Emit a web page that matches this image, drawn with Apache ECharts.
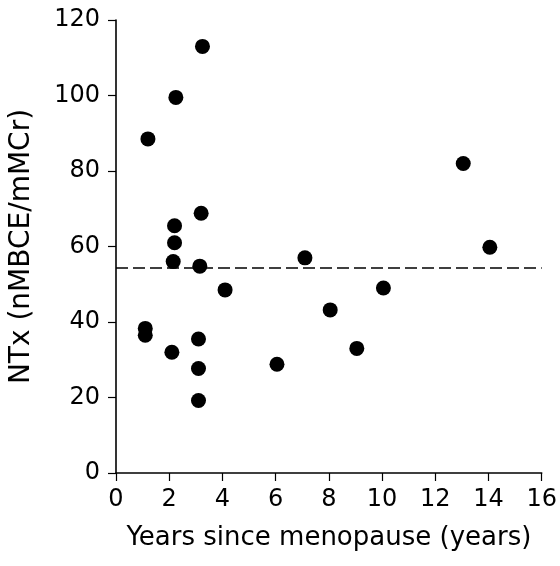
<!DOCTYPE html>
<html>
<head>
<meta charset="utf-8">
<script src="https://cdn.jsdelivr.net/npm/echarts@6/dist/echarts.min.js"></script>
<style>
  html, body { margin: 0; padding: 0; background: #fff; }
  #chart { width: 560px; height: 566px; }
</style>
</head>
<body>
<div id="chart"></div>
<script>
  // years since menopause / NTx pairs
  let years = [3.25, 2.25, 1.2, 3.2, 2.2, 2.2, 2.15, 3.15, 4.1, 1.1, 1.1, 2.1, 3.1, 3.1, 3.1, 6.05, 7.1, 8.05, 9.05, 10.05, 13.05, 14.05]
  let ntx = [113, 99.5, 88.5, 68.8, 65.5, 61, 56, 54.8, 48.5, 38.3, 36.5, 32, 35.5, 27.7, 19.2, 28.8, 57, 43.2, 33, 49, 82, 59.8]
  let meanNtx = 54.5
  let xTicks = [0, 16, 2]
  let yTicks = [0, 120, 20]

  let points = years.map((x, i) => [x, ntx[i]])

  let myChart = echarts.init(document.getElementById('chart'))
  let axisCommon = {
    axisLine: { show: true, onZero: false, lineStyle: { color: '#000', width: 1.6 } },
    axisTick: { show: true, inside: false, length: 8, lineStyle: { color: '#000', width: 1.2 } },
    splitLine: { show: false },
    axisLabel: { color: '#000', fontFamily: 'DejaVu Sans', fontSize: 24 },
    nameTextStyle: { color: '#000', fontFamily: 'DejaVu Sans', fontSize: 26 }
  }
  let option = {
    animation: false,
    backgroundColor: '#fff',
    grid: { left: 116, right: 13, top: 20, bottom: 93, containLabel: false },
    xAxis: Object.assign({}, axisCommon, {
      type: 'value',
      min: xTicks[0], max: xTicks[1], interval: xTicks[2],
      name: 'Years since menopause (years)',
      nameLocation: 'middle',
      nameGap: 52,
      axisLabel: Object.assign({}, axisCommon.axisLabel, { margin: 15 })
    }),
    yAxis: Object.assign({}, axisCommon, {
      type: 'value',
      min: yTicks[0], max: yTicks[1], interval: yTicks[2],
      name: 'NTx (nMBCE/mMCr)',
      nameLocation: 'middle',
      nameRotate: 90,
      nameGap: 80,
      nameTextStyle: Object.assign({}, axisCommon.nameTextStyle, { fontSize: 28 }),
      axisLabel: Object.assign({}, axisCommon.axisLabel, { margin: 16 })
    }),
    series: [
      {
        type: 'scatter',
        data: points,
        symbol: 'circle',
        symbolSize: 15,
        itemStyle: { color: '#000', opacity: 1 },
        markLine: {
          silent: true,
          symbol: 'none',
          label: { show: false },
          lineStyle: { color: '#000', width: 1.6, type: [12, 5], opacity: 1 },
          data: [{ yAxis: meanNtx }]
        }
      }
    ]
  }
  myChart.setOption(option)
</script>
</body>
</html>
